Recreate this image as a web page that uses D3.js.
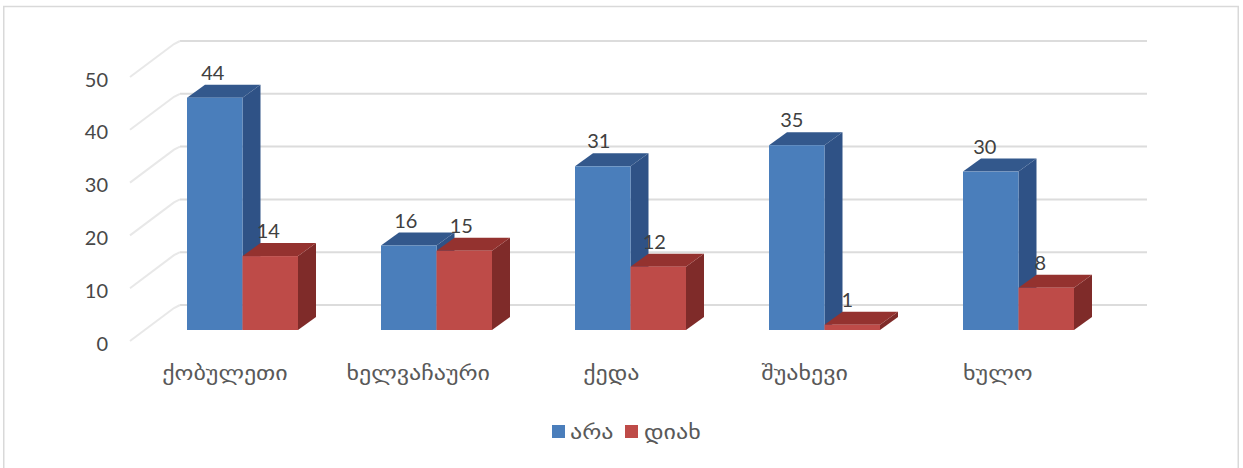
<!DOCTYPE html>
<html><head><meta charset="utf-8">
<script src="https://cdn.jsdelivr.net/npm/d3@7/dist/d3.min.js"></script>
<style>html,body{margin:0;padding:0;background:#fff;overflow:hidden}svg{display:block}.n{font-family:Lato,"Open Sans",sans-serif}.g{font-family:"DejaVu Sans",sans-serif}</style>
</head><body><svg id="c" width="1243" height="468"></svg>
<script>
const categories=["ქობულეთი","ხელვაჩაური","ქედა","შუახევი","ხულო"];
const seriesNames=["არა","დიახ"];
const araValues=[44,16,31,35,30];
const diakhValues=[14,15,12,1,8];
const yTicks=[0,10,20,30,40,50];
const frontColors=["#4a7ebb","#be4b48"];
const topColors=["#33588c","#94322f"];
const sideColors=["#2f5286","#7f2b29"];

const svg=d3.select("#c");
svg.append("rect").attr("x",3.75).attr("y",6.5).attr("width",1234.5).attr("height",480).attr("fill","#fff").attr("stroke","#d9d9d9").attr("stroke-width",1.5);

const depth={x:18,y:13};
const y=d3.scaleLinear().domain([0,50]).range([330,66]);
const x0=d3.scaleBand().domain(categories).range([130,1100]);
const x1=d3.scaleBand().domain(seriesNames).range([57,168]);
const wallY=v=>y(v)-25;
const gx0=180,gx1=1147;

const g=svg.append("g");
yTicks.forEach(t=>{
  g.append("line").attr("x1",gx0).attr("x2",gx1).attr("y1",wallY(t)).attr("y2",wallY(t)).attr("stroke","#dcdcdc").attr("stroke-width",2);
  g.append("path").attr("fill","none").attr("stroke","#e8e8e8").attr("stroke-width",2)
    .attr("d",d3.line()([[130,wallY(t)+36],[gx0-6,wallY(t)+3],[gx0,wallY(t)]]));
  g.append("text").attr("class","n").attr("x",108).attr("y",wallY(t)+45.5).attr("text-anchor","end").attr("font-size",20).attr("fill","#484848").text(t);
});

const labelScale=1.2;
categories.forEach((c,i)=>{
  const vals=[araValues[i],diakhValues[i]];
  seriesNames.forEach((s,k)=>{
    const v=vals[k], l=x0(c)+x1(s), w=x1.bandwidth(), r0=l+w, t=y(v), b=y(0);
    const G=g.append("g");
    G.append("path").attr("fill",sideColors[k]).attr("d",d3.line()([[r0,t],[r0+depth.x,t-depth.y],[r0+depth.x,b-depth.y],[r0,b]])+"Z");
    G.append("path").attr("fill",topColors[k]).attr("d",d3.line()([[l,t],[l+depth.x,t-depth.y],[r0+depth.x,t-depth.y],[r0,t]])+"Z");
    G.append("rect").attr("x",l).attr("y",t).attr("width",w).attr("height",b-t).attr("fill",frontColors[k]);
    G.append("text").attr("class","n").attr("x",l+w/2-2-i).attr("y",t-18).attr("text-anchor","middle").attr("font-size",20).attr("fill","#404040").text(v);
  });
  g.append("text").attr("class","g").attr("transform",`translate(${x0(c)+x0.bandwidth()/2-2-i*.8},380) scale(${labelScale},1)`)
    .attr("text-anchor","middle").attr("font-size",20).attr("fill","#595959").text(c);
});

const lx=[552,625], ltx=[570,644];
seriesNames.forEach((s,k)=>{
  svg.append("rect").attr("x",lx[k]).attr("y",425).attr("width",13).attr("height",13).attr("fill",frontColors[k]);
  svg.append("text").attr("class","g").attr("transform",`translate(${ltx[k]},439) scale(${labelScale},1)`).attr("font-size",20).attr("fill","#595959").text(s);
});
</script></body></html>
